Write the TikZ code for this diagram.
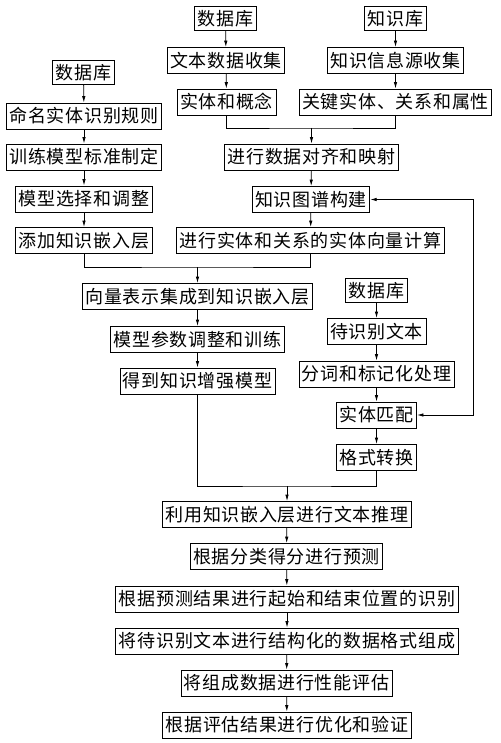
\documentclass[tikz,border=0pt]{standalone}
\usepackage{fontspec}
\setmainfont{Noto Sans CJK SC}[LetterSpace=4]
\usepackage{tikz}
\usetikzlibrary{arrows.meta}

\begin{document}
\begin{tikzpicture}[x=1pt, y=-1pt,
  proc_box/.style={draw, line width=0.8pt, inner xsep=3pt, inner ysep=0pt, minimum height=26pt, font=\fontsize{18}{18}\selectfont},
  db_box/.style={proc_box, minimum height=24pt},
  flow/.style={line width=0.8pt, -{Latex[length=6.5pt, width=3.5pt]}},
  link/.style={line width=0.8pt}]
\useasboundingbox (0,0) rectangle (500,743);

% text data and knowledge sources
\node[db_box] (db_text) at (225.5,18.5) {数据库};
\node[db_box] (kb) at (395.5,18.5) {知识库};
\node[proc_box] (text_collect) at (226,60.5) {文本数据收集};
\node[proc_box] (know_collect) at (395.5,60.5) {知识信息源收集};
\node[proc_box] (ent_concept) at (226.5,102) {实体和概念};
\node[proc_box] (key_rel) at (395.5,102) {关键实体、关系和属性};

% model branch
\node[db_box] (db_model) at (83.5,72.5) {数据库};
\node[proc_box] (ner_rule) at (84,116) {命名实体识别规则};
\node[proc_box] (train_std) at (84,157) {训练模型标准制定};
\node[proc_box] (model_sel) at (84,199) {模型选择和调整};
\node[proc_box] (add_layer) at (84,240.5) {添加知识嵌入层};

% knowledge graph branch
\node[proc_box] (align) at (311.5,157) {进行数据对齐和映射};
\node[proc_box] (kg_build) at (311,199.5) {知识图谱构建};
\node[proc_box] (vec_calc) at (310.5,240.5) {进行实体和关系的实体向量计算};

\node[proc_box] (vec_int) at (197.5,296.5) {向量表示集成到知识嵌入层};
\node[proc_box] (param) at (197.5,339.5) {模型参数调整和训练};
\node[proc_box] (ke_model) at (197.5,381) {得到知识增强模型};

% text to be recognised
\node[db_box] (db_rec) at (376.5,290.5) {数据库};
\node[proc_box] (rec_text) at (376.5,331.5) {待识别文本};
\node[proc_box] (token) at (376.5,374) {分词和标记化处理};
\node[proc_box] (match) at (376.5,415) {实体匹配};
\node[proc_box] (fmt) at (376.5,457.5) {格式转换};

% inference chain
\node[proc_box] (infer) at (287,514.5) {利用知识嵌入层进行文本推理};
\node[proc_box] (predict) at (286.5,556.5) {根据分类得分进行预测};
\node[proc_box] (pos) at (287,599) {根据预测结果进行起始和结束位置的识别};
\node[proc_box] (struct) at (287,641) {将待识别文本进行结构化的数据格式组成};
\node[proc_box] (eval) at (286.5,683) {将组成数据进行性能评估};
\node[proc_box] (optim) at (287,725) {根据评估结果进行优化和验证};

\coordinate (join_a) at (311.5,128);
\coordinate (join_b) at (197.5,267);
\coordinate (join_c) at (287,486);

\draw[flow] (db_text) -- (text_collect);
\draw[flow] (text_collect) -- (ent_concept);
\draw[flow] (kb) -- (know_collect);
\draw[flow] (know_collect) -- (key_rel);
\draw[link] (ent_concept.south) |- (join_a) -| (key_rel.south);
\draw[flow] (join_a) -- (align);
\draw[flow] (align) -- (kg_build);
\draw[flow] (kg_build) -- (vec_calc);

\draw[flow] (db_model) -- (ner_rule);
\draw[flow] (ner_rule) -- (train_std);
\draw[flow] (train_std) -- (model_sel);
\draw[flow] (model_sel) -- (add_layer);
\draw[link] (add_layer.south) |- (join_b) -| (vec_calc.south);
\draw[flow] (join_b) -- (vec_int);
\draw[flow] (vec_int) -- (param);
\draw[flow] (param) -- (ke_model);

\draw[flow] (db_rec) -- (rec_text);
\draw[flow] (rec_text) -- (token);
\draw[flow] (token) -- (match);
\draw[flow] (match) -- (fmt);
\draw[flow, {Latex[length=6.5pt, width=3.5pt]}-{Latex[length=6.5pt, width=3.5pt]}] (match.east) -- ++(56,0) |- (kg_build.east);

\draw[link] (ke_model.south) |- (join_c) -| (fmt.south);
\draw[flow] (join_c) -- (infer);
\draw[flow] (infer) -- (predict);
\draw[flow] (predict) -- (pos);
\draw[flow] (pos) -- (struct);
\draw[flow] (struct) -- (eval);
\draw[flow] (eval) -- (optim);

\end{tikzpicture}
\end{document}
